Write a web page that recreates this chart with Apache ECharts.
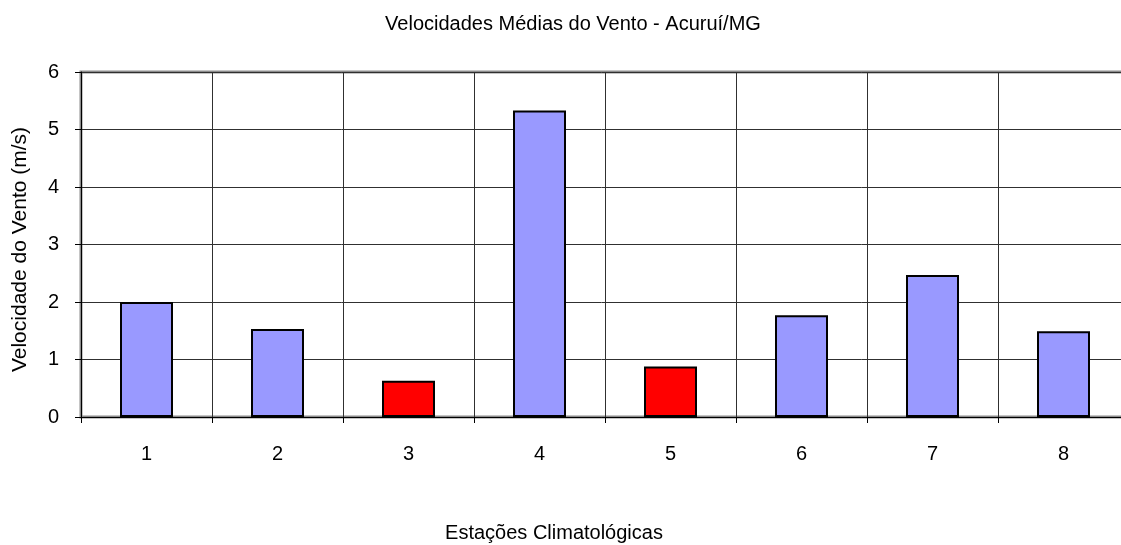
<!DOCTYPE html>
<html>
<head>
<meta charset="utf-8">
<script src="https://cdn.jsdelivr.net/npm/echarts@6/dist/echarts.min.js"></script>
<style>
  html, body { margin: 0; padding: 0; background: #fff; }
  #chart { width: 1121px; height: 545px; }
</style>
</head>
<body>
<div id="chart"></div>
<script>
// Estações climatológicas e velocidade média do vento (m/s)
const stations = ['1', '2', '3', '4', '5', '6', '7', '8'];
const windSpeed = [2.0, 1.53, 0.63, 5.33, 0.88, 1.77, 2.47, 1.49];
// Estações destacadas em vermelho
const highlighted = ['3', '5'];
const yTicks = [0, 1, 2, 3, 4, 5, 6];

const chart = echarts.init(document.getElementById('chart'));
const font = 'Liberation Sans, Arial, sans-serif';

chart.setOption({
  animation: false,
  backgroundColor: '#ffffff',
  title: {
    text: 'Velocidades Médias do Vento - Acuruí/MG',
    left: 568,
    textAlign: 'center',
    top: 9,
    textStyle: { fontFamily: font, fontSize: 20, fontWeight: 'normal', color: '#000' }
  },
  grid: {
    left: 81,
    top: 72,
    width: 1048,
    height: 345,
    outerBoundsMode: 'none',
    containLabel: false,
    show: true,
    borderColor: '#8c8c8c',
    borderWidth: 3,
    backgroundColor: 'transparent'
  },
  xAxis: {
    type: 'category',
    data: stations,
    boundaryGap: true,
    name: 'Estações Climatológicas',
    nameLocation: 'middle',
    nameGap: 106,
    nameTextStyle: { fontFamily: font, fontSize: 20, color: '#000', padding: [0, 102, 0, 0] },
    axisLine: { lineStyle: { color: '#000', width: 1 } },
    axisTick: { show: true, inside: false, length: 6, lineStyle: { color: '#000' } },
    axisLabel: { fontFamily: font, fontSize: 20, color: '#000', margin: 27 },
    splitLine: { show: true, lineStyle: { color: '#303030', width: 1 } }
  },
  yAxis: {
    type: 'value',
    min: yTicks[0],
    max: yTicks[yTicks.length - 1],
    interval: 1,
    name: 'Velocidade do Vento (m/s)',
    nameLocation: 'middle',
    nameGap: 50,
    nameTextStyle: { fontFamily: font, fontSize: 21, color: '#000', padding: [0, 10, 0, 0] },
    axisLine: { show: true, lineStyle: { color: '#000', width: 1 } },
    axisTick: { show: true, inside: false, length: 6, lineStyle: { color: '#000' } },
    axisLabel: { fontFamily: font, fontSize: 20, color: '#000', margin: 22 },
    splitLine: { show: true, lineStyle: { color: '#303030', width: 1 } }
  },
  series: [{
    type: 'bar',
    data: windSpeed,
    barWidth: 53,
    itemStyle: {
      color: p => highlighted.includes(p.name) ? '#ff0000' : '#9999ff',
      borderColor: '#000',
      borderWidth: 2
    }
  }]
});
</script>
</body>
</html>
